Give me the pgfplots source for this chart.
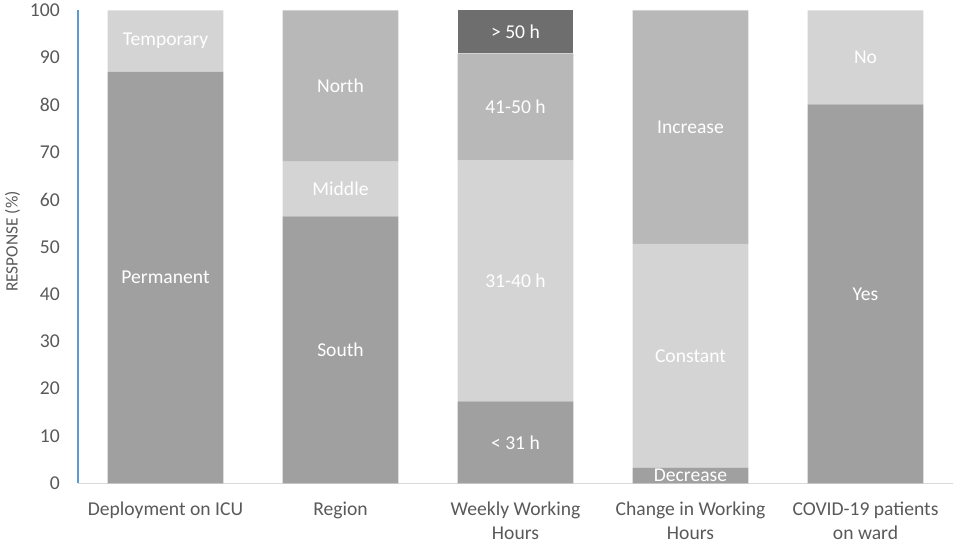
\documentclass[border=0pt]{standalone}
\usepackage{fontspec}
\setmainfont{Carlito}
\usepackage{pgfplots}
\pgfplotsset{compat=1.18}

\definecolor{segA}{HTML}{A0A0A0}
\definecolor{segL}{HTML}{D4D4D4}
\definecolor{segM}{HTML}{B8B8B8}
\definecolor{segD}{HTML}{6E6E6E}
\definecolor{tickgray}{HTML}{595959}
\definecolor{xgray}{HTML}{D9D9D9}
\definecolor{yblue}{HTML}{5B9BD5}

\begin{document}
\begin{tikzpicture}
\pgfplotsset{
  base/.style={width=656.25pt, height=354.75pt, scale only axis,
    xmin=-0.5, xmax=4.5, ymin=0, ymax=100},
}
\begin{axis}[base,
  ybar stacked, bar width=86.8pt,
  separate axis lines,
  axis x line*=bottom, axis y line*=left,
  x axis line style={draw=xgray, line width=0.8pt, -},
  y axis line style={draw=yblue, line width=0.8pt, -},
  tick style={draw=none},
  xtick={0,1,2,3,4},
  xticklabels={Deployment on ICU, Region, Weekly Working\\Hours, Change in Working\\Hours, COVID-19 patients\\on ward},
  ytick={0,10,...,100},
  /pgf/number format/assume math mode=true,
  tick label style={font=\fontsize{14.7}{18}\selectfont, text=tickgray},
  xticklabel style={align=center, inner sep=0pt, anchor=north, yshift=-13.5pt},
  yticklabel style={inner sep=0pt, anchor=east, xshift=-13.5pt},
  ylabel={RESPONSE (\%)},
  ylabel style={at={(axis description cs:-0.075,0.511)}, anchor=center,
    font=\fontsize{13}{15}\selectfont, text=tickgray},
]
\addplot[fill=segA, draw=none] coordinates {(0,87) (1,56.4) (2,17.3) (3,3.3) (4,80.1)};
\addplot[fill=segL, draw=none] coordinates {(0,13) (1,11.6) (2,51.0) (3,47.3) (4,19.9)};
\addplot[fill=segM, draw=none] coordinates {(0,0) (1,32.0) (2,22.6) (3,49.4) (4,0)};
\addplot[fill=segD, draw=none] coordinates {(0,0) (1,0) (2,9.1) (3,0) (4,0)};
\coordinate (SW) at (rel axis cs:0,0);
\coordinate (NE) at (rel axis cs:1,1);
\end{axis}
% segment labels, centred in each segment
\begin{axis}[base, hide axis]
\addplot[only marks, mark=*, mark size=0pt, mark options={draw=none, fill=none},
  point meta=explicit symbolic, nodes near coords,
  nodes near coords style={anchor=center, text=white, inner sep=0pt,
    font=\fontsize{14.7}{18}\selectfont}]
  coordinates {
    (0,43.5) [Permanent] (0,93.5) [Temporary]
    (1,28.2) [South] (1,62.2) [Middle] (1,84.0) [North]
    (2,8.65) [< 31 h] (2,42.8) [31-40 h] (2,79.6) [41-50 h] (2,95.45) [> 50 h]
    (3,1.65) [Decrease] (3,26.95) [Constant] (3,75.3) [Increase]
    (4,40.05) [Yes] (4,90.05) [No]
  };
\end{axis}
\pgfresetboundingbox
\path ([shift={(-58.5pt,-45.5pt)}]SW) rectangle ([shift={(3pt,7.7pt)}]NE);
\end{tikzpicture}
\end{document}
